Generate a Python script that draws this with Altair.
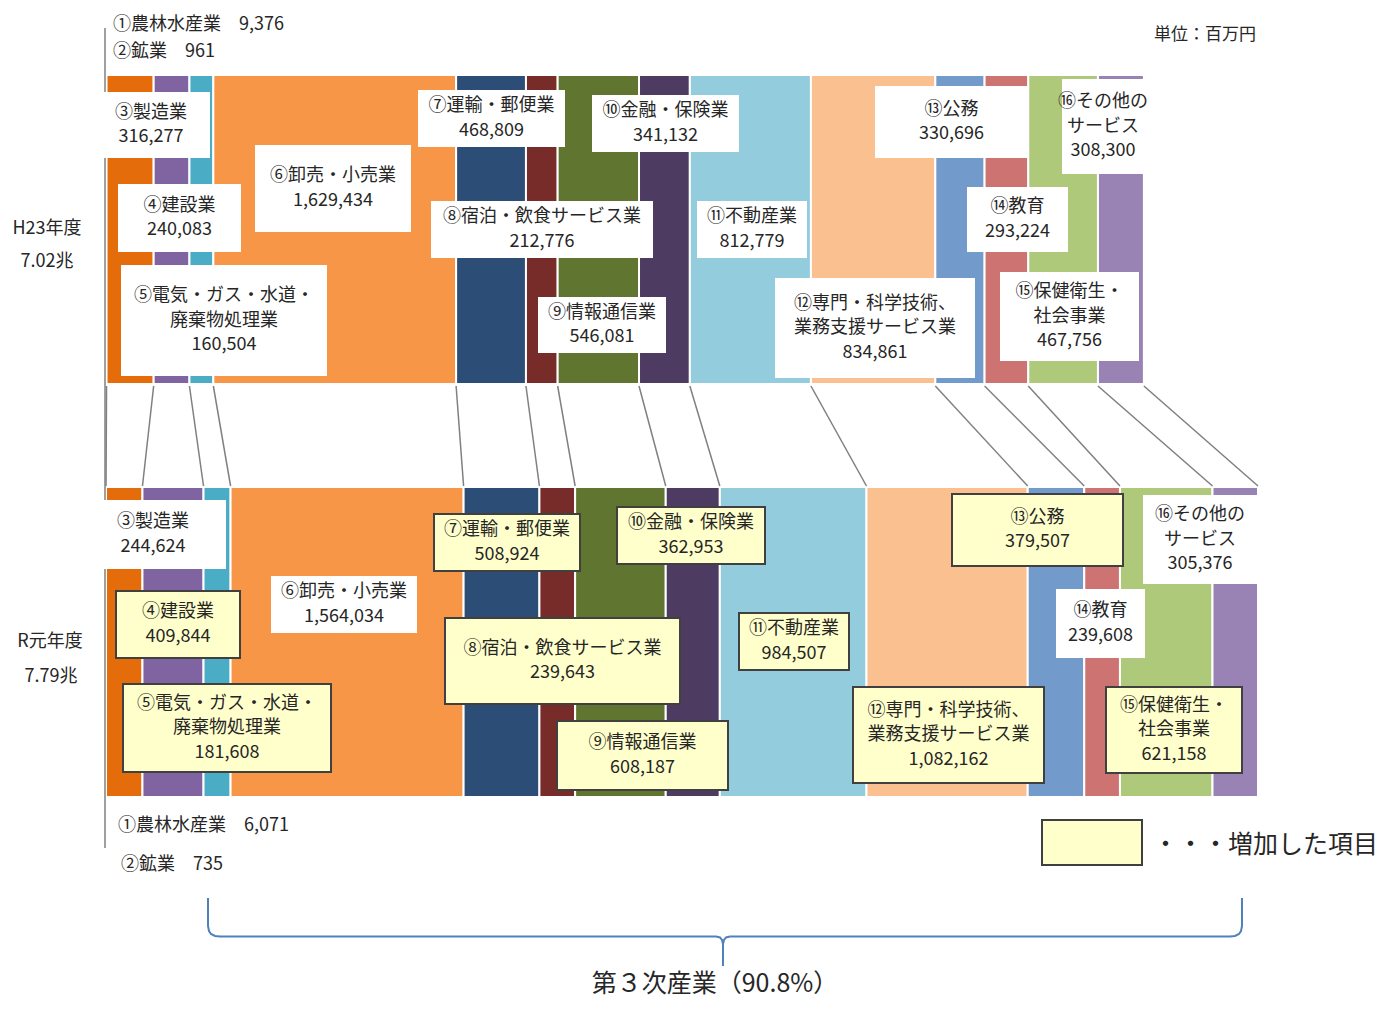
import altair as alt
import pandas as pd

# ---------------- data ----------------
industries = [
    "①農林水産業", "②鉱業", "③製造業", "④建設業",
    "⑤電気・ガス・水道・\n廃棄物処理業", "⑥卸売・小売業", "⑦運輸・郵便業",
    "⑧宿泊・飲食サービス業", "⑨情報通信業", "⑩金融・保険業", "⑪不動産業",
    "⑫専門・科学技術、\n業務支援サービス業", "⑬公務", "⑭教育",
    "⑮保健衛生・\n社会事業", "⑯その他の\nサービス",
]
values_h23 = [9376, 961, 316277, 240083, 160504, 1629434, 468809, 212776,
              546081, 341132, 812779, 834861, 330696, 293224, 467756, 308300]
values_r1 = [6071, 735, 244624, 409844, 181608, 1564034, 508924, 239643,
             608187, 362953, 984507, 1082162, 379507, 239608, 621158, 305376]
years = ["H23年度", "R元年度"]
year_totals = ["7.02兆", "7.79兆"]
unit_label = "単位：百万円"
legend_label = "・・・増加した項目"
tertiary_label = "第３次産業（90.8%）"

colors = ["#4F81BD", "#C0504D", "#E46C0A", "#8064A2", "#4BACC6", "#F79646",
          "#2C4D75", "#772C2A", "#5F7530", "#4D3B62", "#93CDDD", "#FAC090",
          "#729ACA", "#CD7371", "#AFC97A", "#9983B5"]

# ---------------- layout (page pixels) ----------------
FONT = "Noto Sans CJK JP"
TXT = "#262626"
BAR_Y = {0: (75, 384), 1: (487, 797)}
LINE_STEP = 24.5
# label boxes: (x1, x2, y1, y2, text-centre-x or None)
BOXES = {
    0: {2: (96, 210, 92, 158, 151), 3: (118, 241, 184, 252, None),
        4: (121, 327, 265, 376, None), 5: (255, 411, 145, 232, None),
        6: (418, 565, 90, 147, None), 7: (431, 653, 201, 258, None),
        8: (538, 666, 297, 353, None), 9: (592, 739, 95, 152, None),
        10: (697, 807, 201, 258, None), 11: (775, 975, 278, 378, None),
        12: (875, 1028, 86, 158, None), 13: (967, 1068, 187, 252, None),
        14: (1000, 1139, 272, 361, None), 15: (1062, 1144, 79, 174, None)},
    1: {2: (97, 226, 500, 569, 153), 3: (116, 240, 591, 658, None),
        4: (123, 331, 684, 772, None), 5: (271, 417, 576, 633, None),
        6: (434, 580, 514, 571, None), 7: (445, 680, 618, 704, None),
        8: (557, 728, 721, 790, None), 9: (617, 765, 507, 564, None),
        10: (739, 849, 613, 670, None), 11: (853, 1044, 687, 783, None),
        12: (952, 1123, 494, 566, None), 13: (1056, 1145, 589, 658, None),
        14: (1106, 1242, 687, 773, None), 15: (1143, 1257, 495, 584, None)},
}
SMALL_POS = {0: [(113, 25), (113, 52)], 1: [(118, 826), (121, 865)]}
YEAR_POS = {0: [(47, 229), (47, 262)], 1: [(50, 642), (51, 677)]}

PX = alt.Scale(domain=[8, 1385], range=[0, 1377])
PY = alt.Scale(domain=[8, 998], range=[0, 990])
total_max = sum(values_r1)
XS = alt.Scale(domain=[0, total_max], range=[97, 1250])

# ---------------- tables ----------------
bar_rows = []
cums = {}
for r, vals in enumerate([values_h23, values_r1]):
    c = 0
    starts = []
    for i, v in enumerate(vals):
        starts.append(c)
        bar_rows.append(dict(ind=industries[i], start=c, end=c + v,
                             y1=BAR_Y[r][0], y2=BAR_Y[r][1]))
        c += v
    starts.append(c)
    cums[r] = starts
bars_df = pd.DataFrame(bar_rows)

conn_df = pd.DataFrame([dict(xt=cums[0][i], xb=cums[1][i], y1=386, y2=486)
                        for i in range(2, 17)])
vline_df = pd.DataFrame([dict(x=0, y1=28, y2=848)])

white_boxes, yellow_boxes, center_txt, left_txt = [], [], [], []
for r, vals in enumerate([values_h23, values_r1]):
    for i, (x1, x2, y1, y2, tx) in BOXES[r].items():
        increased = (r == 1 and values_r1[i] > values_h23[i])
        (yellow_boxes if increased else white_boxes).append(
            dict(x1=x1, x2=x2, y1=y1, y2=y2))
        lines = industries[i].split("\n") + [f"{vals[i]:,}"]
        cx = tx if tx is not None else (x1 + x2) / 2
        cy = (y1 + y2) / 2
        n = len(lines)
        for k, t in enumerate(lines):
            center_txt.append(dict(x=cx, y=cy + (k - (n - 1) / 2) * LINE_STEP,
                                   t=t, s=18))
    for k in range(2):
        x, y = SMALL_POS[r][k]
        left_txt.append(dict(x=x, y=y, t=f"{industries[k]}　{vals[k]:,}", s=18))
    (x, y), (x2_, y2_) = YEAR_POS[r]
    center_txt.append(dict(x=x, y=y, t=years[r], s=18))
    center_txt.append(dict(x=x2_, y=y2_, t=year_totals[r], s=18))

center_txt.append(dict(x=1205, y=35, t=unit_label, s=17))
center_txt.append(dict(x=715, y=984, t=tertiary_label, s=25))
left_txt.append(dict(x=1153, y=845, t=legend_label, s=25))
yellow_boxes.append(dict(x1=1042, x2=1142, y1=820, y2=865))

brace_left = [(208, 898), (208, 926), (209, 931), (211, 934), (215, 936),
              (220, 936.5), (716, 936.5), (720, 937.5), (722, 940),
              (723, 944), (723, 966)]
brace_right = [(1242, 898), (1242, 926), (1241, 931), (1239, 934),
               (1235, 936), (1230, 936.5), (730, 936.5), (726, 937.5),
               (724, 940), (723, 944), (723, 966)]
brace_df = pd.DataFrame(
    [dict(part="L", i=k, x=x, y=y) for k, (x, y) in enumerate(brace_left)] +
    [dict(part="R", i=k, x=x, y=y) for k, (x, y) in enumerate(brace_right)])

# ---------------- layers ----------------
bars = alt.Chart(bars_df).mark_rect(stroke="white", strokeWidth=2).encode(
    x=alt.X("start:Q", scale=XS, axis=None), x2="end:Q",
    y=alt.Y("y1:Q", scale=PY, axis=None), y2="y2:Q",
    color=alt.Color("ind:N", scale=alt.Scale(domain=industries, range=colors),
                    legend=None),
)
connectors = alt.Chart(conn_df).mark_rule(color="#808080", strokeWidth=1.5).encode(
    x=alt.X("xt:Q", scale=XS, axis=None), x2="xb:Q",
    y=alt.Y("y1:Q", scale=PY, axis=None), y2="y2:Q",
)
vline = alt.Chart(vline_df).mark_rule(color="#808080", strokeWidth=1.5).encode(
    x=alt.X("x:Q", scale=XS, axis=None),
    y=alt.Y("y1:Q", scale=PY, axis=None), y2="y2:Q",
)
wbox = alt.Chart(pd.DataFrame(white_boxes)).mark_rect(fill="white").encode(
    x=alt.X("x1:Q", scale=PX, axis=None), x2="x2:Q",
    y=alt.Y("y1:Q", scale=PY, axis=None), y2="y2:Q",
)
ybox = alt.Chart(pd.DataFrame(yellow_boxes)).mark_rect(
    fill="#FFFFCC", stroke="#404040", strokeWidth=2).encode(
    x=alt.X("x1:Q", scale=PX, axis=None), x2="x2:Q",
    y=alt.Y("y1:Q", scale=PY, axis=None), y2="y2:Q",
)
ctext = alt.Chart(pd.DataFrame(center_txt)).mark_text(
    align="center", baseline="middle", font=FONT, color=TXT).encode(
    x=alt.X("x:Q", scale=PX, axis=None),
    y=alt.Y("y:Q", scale=PY, axis=None),
    text="t:N", size=alt.Size("s:Q", scale=None, legend=None),
)
ltext = alt.Chart(pd.DataFrame(left_txt)).mark_text(
    align="left", baseline="middle", font=FONT, color=TXT).encode(
    x=alt.X("x:Q", scale=PX, axis=None),
    y=alt.Y("y:Q", scale=PY, axis=None),
    text="t:N", size=alt.Size("s:Q", scale=None, legend=None),
)
brace = alt.Chart(brace_df).mark_line(color="#4F81BD", strokeWidth=2).encode(
    x=alt.X("x:Q", scale=PX, axis=None),
    y=alt.Y("y:Q", scale=PY, axis=None),
    detail="part:N", order="i:Q",
)

chart = alt.layer(bars, connectors, vline, wbox, ybox, brace, ctext, ltext).resolve_scale(
    x="independent", y="independent"
).properties(
    width=1377, height=990, padding=0,
    autosize=alt.AutoSizeParams(type="none"),
    background="white",
).configure_view(strokeWidth=0)

chart.save("out.html", embed_options={"renderer": "svg", "actions": False})
